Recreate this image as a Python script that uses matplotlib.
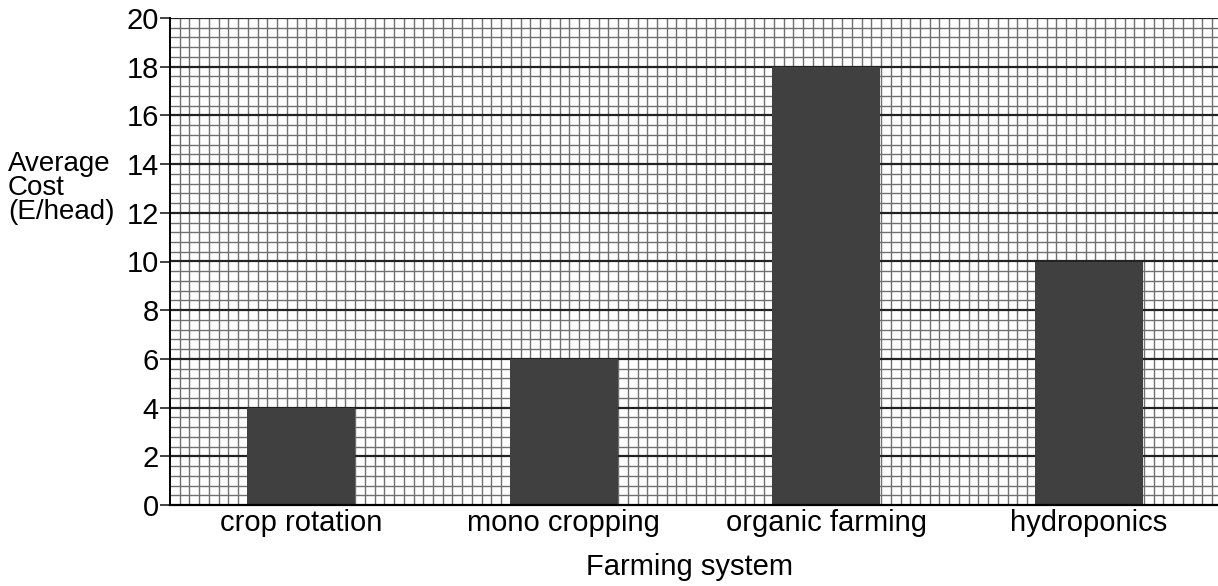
import numpy as np
import matplotlib.pyplot as plt
from matplotlib.ticker import MultipleLocator

systems = ["crop rotation", "mono cropping", "organic farming", "hydroponics"]
avg_cost = [4, 6, 18, 10]

plt.rcParams["font.family"] = ["Liberation Sans", "DejaVu Sans"]
FS = 21

W, H = 1218, 586
fig = plt.figure(figsize=(W / 100, H / 100), dpi=100)
ax_l, ax_r, ax_t, ax_b = 170, 1220, 18, 505
ax = fig.add_axes([ax_l / W, 1 - ax_b / H, (ax_r - ax_l) / W, (ax_b - ax_t) / H])

x = np.arange(len(systems))
ax.set_xlim(-0.5, 3.5)
ax.set_ylim(0, 20)

# graph-paper grid: square cells of 0.4 y-units
px_per_y = (ax_b - ax_t) / 20
px_per_x = (ax_r - ax_l) / 4
step_x = 0.4 * px_per_y / px_per_x
for xv in np.arange(-0.5, 3.5, step_x)[1:]:
    ax.axvline(xv, color="#707070", lw=1.0, zorder=0)
for yv in np.arange(0.4, 20.01, 0.4):
    major = abs(yv / 2 - round(yv / 2)) < 1e-6
    ax.axhline(yv, color="#222222" if major else "#707070",
               lw=1.6 if major else 1.0, zorder=0)

ax.bar(x, avg_cost, width=0.41, color="#404040", zorder=2)

ax.yaxis.set_major_locator(MultipleLocator(2))
ax.set_xticks(x)
ax.set_xticklabels(systems, fontsize=FS)
ax.tick_params(axis="x", length=0, pad=3)
ax.tick_params(axis="y", labelsize=FS, length=7, width=1.2, pad=1, color="#222222")
for s in ("top", "right"):
    ax.spines[s].set_visible(False)
ax.spines["left"].set_linewidth(1.4)
ax.spines["bottom"].set_linewidth(1.6)

fig.text(8 / W, 1 - 188 / H, "Average\nCost\n(E/head)", fontsize=20,
         ha="left", va="center", linespacing=0.92)
fig.text(690 / W, 1 - 567 / H, "Farming system", fontsize=FS,
         ha="center", va="center")

fig.savefig("out.png", dpi=100)
